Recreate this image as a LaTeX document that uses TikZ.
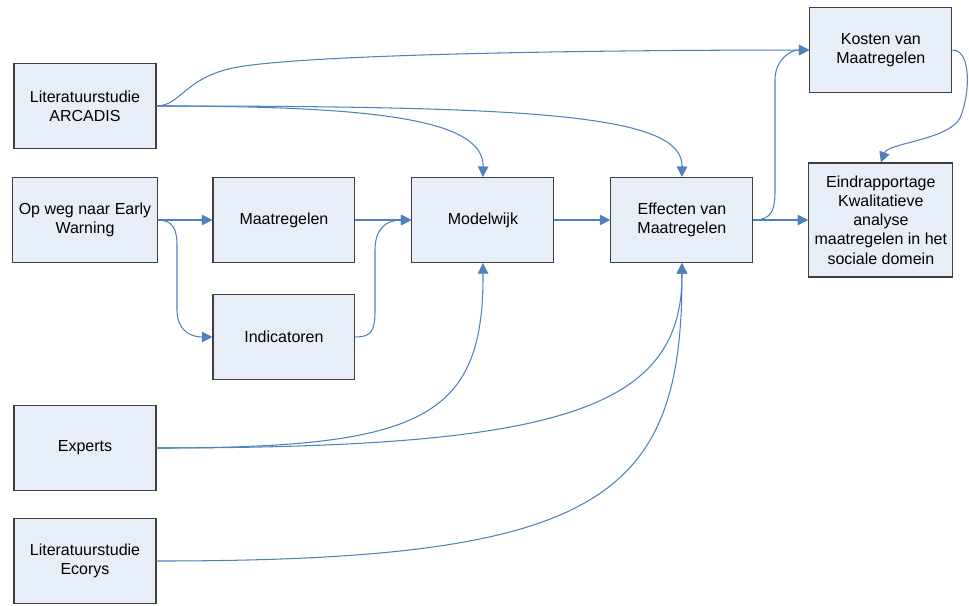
\documentclass[tikz,border=0pt]{standalone}
\usepackage{fontspec}
\setmainfont{Liberation Sans}
\usetikzlibrary{arrows.meta,positioning}
\definecolor{boxfill}{RGB}{232,238,247}
\definecolor{boxline}{RGB}{64,64,64}
\definecolor{flowblue}{RGB}{79,129,189}

\begin{document}
\begin{tikzpicture}[x=0.02cm,y=-0.02cm,node distance=3.98cm,>={Triangle[length=6pt,width=6pt]}]
  \tikzstyle{box}=[rectangle,draw=boxline,fill=boxfill,line width=0.6pt,minimum width=2.84cm,minimum height=1.7cm,align=center,font=\fontsize{9.1}{10.9}\selectfont]
  \tikzstyle{flow}=[draw=flowblue,line width=0.6pt,->]

  \useasboundingbox (0,0) rectangle (969,605);

  % bronnen links
  \node [box] (arc) at (85,106) {Literatuurstudie\\ARCADIS};
  \node [box] (opw) at (85,220) {Op weg naar Early\\Warning};
  \node [box] (exp) at (85,448) {Experts};
  \node [box] (eco) at (85,561) {Literatuurstudie\\Ecorys};

  \node [box] (maat) [right of=opw] {Maatregelen};
  \node [box] (ind) [right of=opw,yshift=-2.34cm] {Indicatoren};
  \node [box] (mod) [right of=maat] {Modelwijk};
  \node [box] (eff) [right of=mod] {Effecten van\\Maatregelen};
  \node [box] (kos) [right of=eff,yshift=3.4cm] {Kosten van\\Maatregelen};
  \node [box] (eind) [right of=eff,minimum height=2.28cm] {Eindrapportage\\Kwalitatieve\\analyse\\maatregelen in het\\sociale domein};

  % rechte pijlen
  \draw [flow] (opw) -- (maat);
  \draw [flow] (maat) -- (mod);
  \draw [flow] (mod) -- (eff);
  \draw [flow] (eff) -- (eind);

  % gebogen pijlen
  \draw [flow] (arc.east) .. controls (180,106) and (185,78) .. (233,68)
    .. controls (300,54) and (600,50) .. (kos.west);
  \draw [flow] (arc.east) .. controls (380,106) and (484,120) .. (mod.north);
  \draw [flow] (arc.east) .. controls (540,106) and (683,115) .. (eff.north);
  \draw [flow] (opw.east) .. controls (172,220) and (177,228) .. (177,245)
    -- (177,310) .. controls (177,330) and (190,337) .. (ind.west);
  \draw [flow] (ind.east) .. controls (372,337) and (375,330) .. (375,310)
    -- (375,250) .. controls (375,230) and (385,220) .. (mod.west);
  \draw [flow] (eff.east) .. controls (772,220) and (775,210) .. (775,190)
    -- (775,80) .. controls (775,60) and (790,50) .. (kos.west);
  \draw [flow] (kos.east) .. controls (972,50) and (970,95) .. (960,118)
    .. controls (948,140) and (888,143) .. (eind.north);
  \draw [flow] (exp.east) .. controls (420,448) and (484,420) .. (mod.south);
  \draw [flow] (exp.east) .. controls (560,448) and (683,410) .. (eff.south);
  \draw [flow] (eco.east) .. controls (600,561) and (683,500) .. (eff.south);
\end{tikzpicture}
\end{document}
